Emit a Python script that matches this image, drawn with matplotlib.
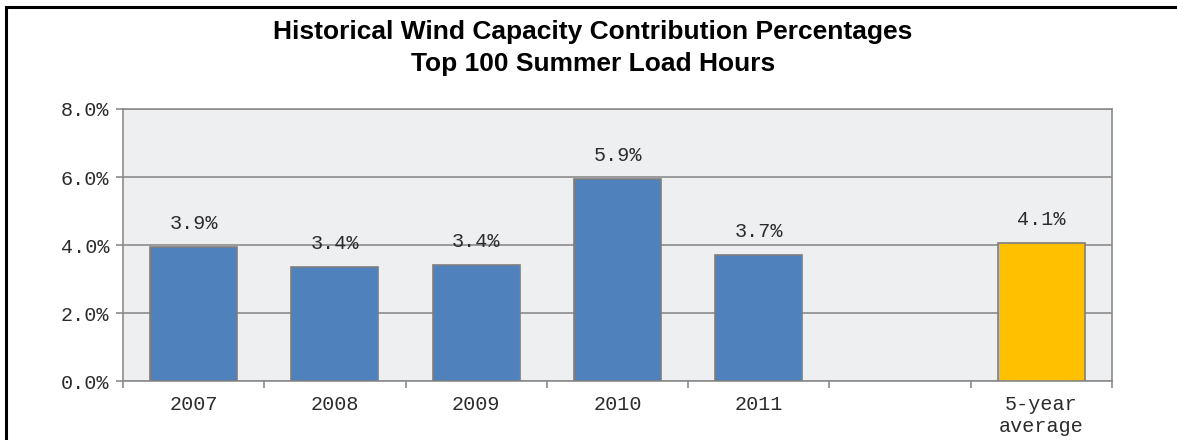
import matplotlib
matplotlib.use('Agg')
import matplotlib.pyplot as plt
from matplotlib.patches import Rectangle
import numpy as np

# chart data
categories = ['2007', '2008', '2009', '2010', '2011', '', '5-year\naverage']
values = [3.94, 3.36, 3.42, 5.93, 3.71, None, 4.06]   # percent
bar_colors = ['#4F81BD', '#4F81BD', '#4F81BD', '#4F81BD', '#4F81BD', None, '#FFC000']
y_ticks = [0, 2, 4, 6, 8]

title = 'Historical Wind Capacity Contribution Percentages\nTop 100 Summer Load Hours'

mono = 'Liberation Mono'
txt_col = '#2B2B2B'

fig = plt.figure(figsize=(11.77, 4.40), dpi=100)
ax = fig.add_axes([0.1045, 0.134, 0.8403, 0.6183])
ax.set_facecolor('#EEEFF1')

x = np.arange(len(categories))
for xi, v, c in zip(x, values, bar_colors):
    if v is None:
        continue
    ax.bar(xi, v, width=0.615, color=c, edgecolor='#7F7F7F', linewidth=1.2, zorder=3)
    ax.annotate(f'{v:.1f}%', (xi, v), xytext=(0, 17), textcoords='offset points',
                ha='center', va='center', family=mono, fontsize=14.5, color=txt_col)

ax.set_xlim(-0.5, len(categories) - 0.5)
ax.set_ylim(0, 8)

# y axis
ax.set_yticks(y_ticks)
ax.set_yticklabels([f'{t:.1f}%' for t in y_ticks], family=mono, fontsize=14.5, color=txt_col)
ax.yaxis.grid(True, color='#8C8C8C', linewidth=1.2, zorder=1)
ax.set_axisbelow(True)

# x axis: tick marks at category boundaries, labels at centres
ax.set_xticks(np.arange(-0.5, len(categories)), minor=False)
ax.set_xticklabels([])
ax.set_xticks(x, minor=True)
ax.set_xticklabels(categories, minor=True, family=mono, fontsize=14.5, color=txt_col,
                   linespacing=1.2)
ax.tick_params(axis='x', which='minor', length=0, pad=10)
ax.tick_params(axis='x', which='major', length=5, color='#8C8C8C', width=1.2)
ax.tick_params(axis='y', length=5, color='#8C8C8C', width=1.2, pad=5)

for s in ax.spines.values():
    s.set_color('#8C8C8C')
    s.set_linewidth(1.2)

fig.text(593 / 1177, 1 - 48 / 440, title, ha='center', va='center', fontsize=19,
         fontweight='bold', family='Liberation Sans', linespacing=1.38)

# outer border (only top and left edges fall inside the image)
border = Rectangle((6 / 1177, -0.1), 1.2, (433 / 440) + 0.1, transform=fig.transFigure,
                   fill=False, edgecolor='black', linewidth=2.2)
fig.patches.append(border)

fig.savefig('out.png', dpi=100, facecolor='white')
